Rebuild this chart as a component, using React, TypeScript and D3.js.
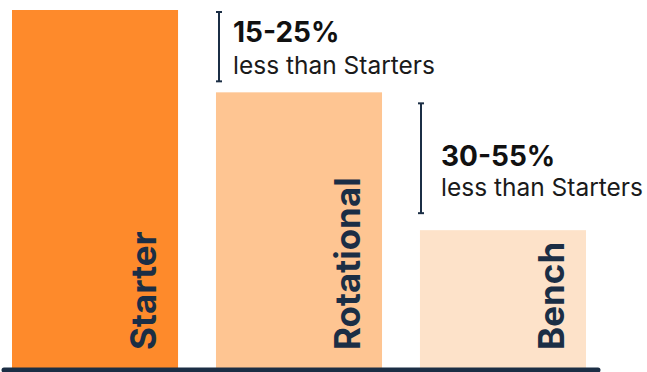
import React from "react";
import * as d3 from "d3";

const categories = ["Starter", "Rotational", "Bench"];
const values = [100, 77, 38.5];
const colors = ["#FE8A2B", "#FEC592", "#FDE2C9"];
const annotationTitles = ["15-25%", "30-55%"];
const annotationSubtitle = "less than Starters";

const W = 647;
const H = 372;
const NAVY = "#1B2E45";

export default function App() {
  const x = d3.scaleBand<string>().domain(categories).range([12, 586]).paddingInner(0.186).paddingOuter(0);
  const y = d3.scaleLinear().domain([0, 100]).range([368, 10]);
  const bw = x.bandwidth();

  const ann = [
    { x: 219, y1: y(values[0]) + 2, y2: y(values[1]) - 11, tx: 233, ty1: 42, ty2: 74 },
    { x: 421, y1: y(values[1]) + 11, y2: y(values[2]) - 17, tx: 441, ty1: 166, ty2: 196 },
  ];

  return (
    <svg width={W} height={H} style={{ position: "fixed", left: 0, top: 0, background: "#fff" }}>
      {categories.map((c, i) => (
        <rect key={c} x={x(c)} y={y(values[i])} width={bw} height={y(0) - y(values[i])} fill={colors[i]} />
      ))}
      {categories.map((c) => (
        <text
          key={c + "l"}
          transform={`translate(${(x(c) as number) + bw - 22},${350}) rotate(-90)`}
          fontFamily="Inter"
          fontWeight={700}
          fontSize={35}
          fill={NAVY}
          textAnchor="start"
        >
          {c}
        </text>
      ))}
      <line x1={4} x2={598} y1={370} y2={370} stroke={NAVY} strokeWidth={5} strokeLinecap="round" />
      {ann.map((a, i) => (
        <g key={i}>
          <line x1={a.x} x2={a.x} y1={a.y1} y2={a.y2} stroke={NAVY} strokeWidth={2} />
          <line x1={a.x - 3} x2={a.x + 3} y1={a.y1} y2={a.y1} stroke={NAVY} strokeWidth={2} />
          <line x1={a.x - 3} x2={a.x + 3} y1={a.y2} y2={a.y2} stroke={NAVY} strokeWidth={2} />
          <text x={a.tx} y={a.ty1} fontFamily="Inter" fontWeight={700} fontSize={28} fill="#111">
            {annotationTitles[i]}
          </text>
          <text x={a.tx} y={a.ty2} fontFamily="Inter" fontWeight={400} fontSize={24.5} fill="#1a1a1a">
            {annotationSubtitle}
          </text>
        </g>
      ))}
    </svg>
  );
}
